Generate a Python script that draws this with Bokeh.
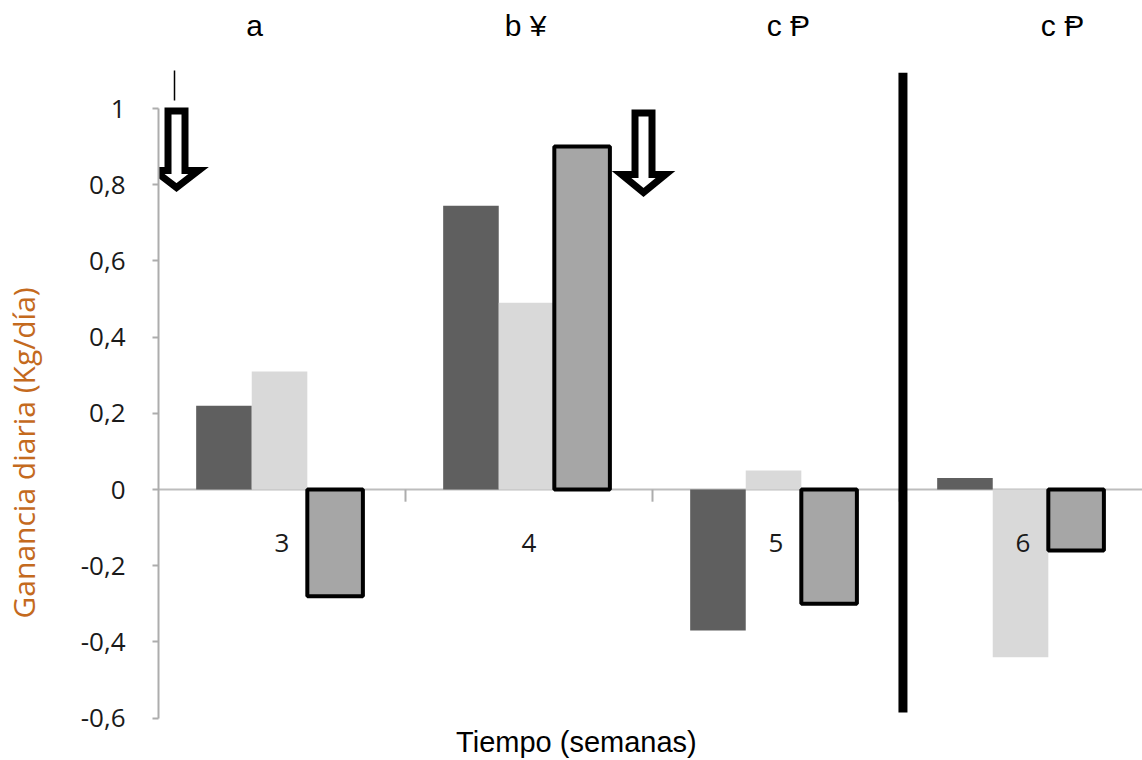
from bokeh.plotting import figure
from bokeh.models import Range1d, FixedTicker, CustomJSTickFormatter, Span, ColumnDataSource, Title
from bokeh.core.properties import value
from bokeh.embed import file_html
from bokeh.resources import INLINE

# ---- data ----
weeks = [3, 4, 5, 6]
week_labels = ["3", "4", "5", "6"]
serie_oscura = [0.22, 0.745, -0.37, 0.03]
serie_clara = [0.31, 0.49, 0.05, -0.44]
serie_media = [-0.28, 0.90, -0.30, -0.16]
group_notes = ["a", "b ¥", "c Ᵽ", "c Ᵽ"]
y_ticks = [-0.6, -0.4, -0.2, 0, 0.2, 0.4, 0.6, 0.8, 1]

# ---- layout constants ----
BAR_W = 0.225
OFF_DARK, OFF_LIGHT, OFF_MID = -0.235, -0.01, 0.215
note_x = [2.889, 3.986, 5.05, 6.16]

p = figure(width=1142, height=760, output_backend="svg", toolbar_location=None,
           x_range=Range1d(2.5, 6.4838), y_range=Range1d(-0.7113, 1.2835),
           x_axis_location=None, min_border_left=158, min_border_right=0,
           min_border_top=0, min_border_bottom=0)
p.outline_line_color = None
p.grid.visible = False
p.background_fill_color = "white"
p.border_fill_color = "white"

# y axis
ya = p.yaxis[0]
ya.ticker = FixedTicker(ticks=y_ticks)
ya.bounds = (-0.6, 1)
ya.formatter = CustomJSTickFormatter(code="""
if (Math.abs(tick) < 1e-9) return '0';
if (Math.abs(tick - 1) < 1e-9) return '1';
return tick.toFixed(1).replace('.', ',');
""")
ya.axis_line_color = "#ADADAD"
ya.axis_line_width = 2
ya.major_tick_line_color = "#ADADAD"
ya.major_tick_line_width = 2
ya.major_tick_out = 6
ya.major_tick_in = 0
ya.minor_tick_line_color = None
ya.major_label_standoff = 27
ya.major_label_text_font = "Open Sans"
ya.major_label_text_font_size = "26px"
ya.major_label_text_color = "#1a1a1a"
# invisible spacer label: widens the axis panel so the side title sits further left
ya.axis_label = "\u00a0"
ya.axis_label_text_font_size = "1px"
ya.axis_label_standoff = 30

# y axis title as a side title, offset along the axis
ytitle = Title(text="Ganancia diaria (Kg/día)", align="left", offset=142,
               vertical_align="bottom", standoff=0,
               text_font="Open Sans", text_font_style="normal", text_font_size="30px",
               text_color="#C46A1E")
p.add_layout(ytitle, "left")

# zero line
p.add_layout(Span(location=0, dimension="width", line_color="#BDBDBD", line_width=2, level="underlay"))

# x ticks at group boundaries
bounds_x = [w + 0.5 for w in weeks[:-1]]
p.segment(x0=bounds_x, x1=bounds_x, y0=[0] * len(bounds_x), y1=[-0.032] * len(bounds_x),
          line_color="#ADADAD", line_width=2)

src = ColumnDataSource(dict(
    xd=[w + OFF_DARK for w in weeks],
    xl=[w + OFF_LIGHT for w in weeks],
    xm=[w + OFF_MID for w in weeks],
    dark=serie_oscura, light=serie_clara, mid=serie_media,
))
p.vbar(x="xd", top="dark", bottom=0, width=BAR_W, source=src, fill_color="#5F5F5F", line_color=None)
p.vbar(x="xl", top="light", bottom=0, width=BAR_W, source=src, fill_color="#D9D9D9", line_color=None)
p.vbar(x="xm", top="mid", bottom=0, width=BAR_W, source=src, fill_color="#A6A6A6",
       line_color="black", line_width=4)

# category labels
p.text(x=weeks, y=[-0.1417] * 4, text=week_labels, text_align="center", text_baseline="middle",
       text_font=value("Open Sans"), text_font_size="26px", text_color="#1a1a1a")

# top notes
p.text(x=note_x, y=[1.2178] * 4, text=group_notes, text_align="center", text_baseline="middle",
       text_font=value("Liberation Sans"), text_font_size="30px", text_color="black")

# vertical divider
p.segment(x0=[5.514], x1=[5.514], y0=[1.094], y1=[-0.585], line_color="black", line_width=9)

# small tick line above first arrow
p.segment(x0=[2.5648], x1=[2.5648], y0=[1.0997], y1=[1.021], line_color="black", line_width=1.5)

# hollow down arrows
def arrow(cx, top, base, tip, sh=0.0344, hh=0.0891):
    xs = [cx - sh, cx + sh, cx + sh, cx + hh, cx, cx - hh, cx - sh]
    ys = [top, top, base, base, tip, base, base]
    return xs, ys

a1 = arrow(2.5729, 0.9934, 0.837, 0.7927)
a2 = arrow(4.4636, 0.988, 0.8268, 0.7795)
p.patches(xs=[a1[0], a2[0]], ys=[a1[1], a2[1]], fill_color="white", line_color="black",
          line_width=7, line_join="miter")

# x axis title
p.text(x=[4.192], y=[-0.664], text=["Tiempo (semanas)"], text_align="center", text_baseline="middle",
       text_font=value("Liberation Sans"), text_font_size="29px", text_color="black")

open("out.html", "w").write(file_html(p, INLINE))
